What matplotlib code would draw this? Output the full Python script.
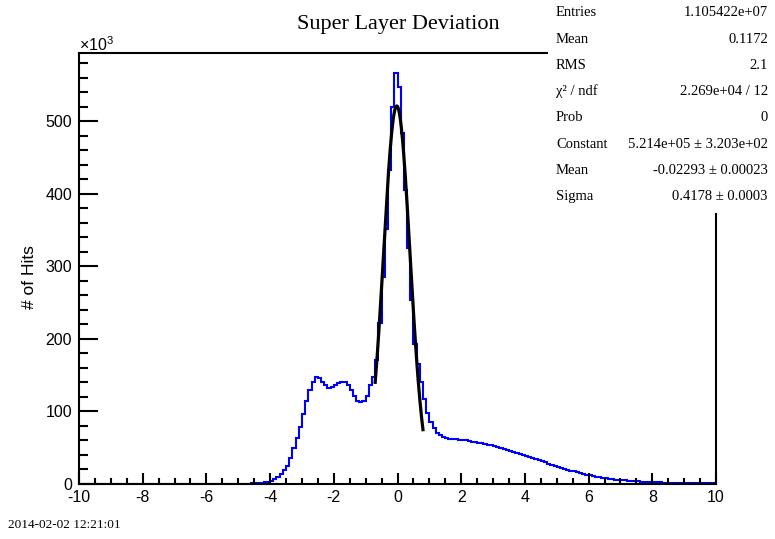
import numpy as np
import matplotlib
matplotlib.use("Agg")
import matplotlib.pyplot as plt
from matplotlib.patches import Rectangle
from matplotlib.ticker import MultipleLocator

plt.rcParams["font.family"] = ["Liberation Sans", "DejaVu Sans"]
plt.rcParams["axes.unicode_minus"] = False
plt.rcParams["mathtext.fontset"] = "custom"
plt.rcParams["mathtext.rm"] = "Liberation Sans"

W, H = 775, 539
SERIF = ["Liberation Serif", "DejaVu Serif"]

# ── data: hits per 0.1 bin, in units of 10^3 ───────────────────────────────
X_MIN, X_MAX = -10.0, 10.0
HITS = [
    # -10.0 .. -5.0
    0, 0, 0, 0, 0, 0, 0, 0, 0, 0,
    0, 0, 0, 0, 0, 0, 0, 0, 0, 0,
    0, 0, 0, 0, 0, 0, 0, 0, 0, 0,
    0, 0, 0, 0, 0, 0, 0, 0, 0, 0,
    0, 0, 0, 0, 0, 0.1, 0.1, 0.1, 0.2, 0.2,
    # -5.0 .. -4.0
    0.3, 0.4, 0.5, 0.6, 0.8, 1.0, 1.3, 1.7, 2.3, 3.0,
    # -4.0 .. -3.0
    4.5, 6.5, 9.5, 14, 19, 25, 36, 49, 63, 79,
    # -3.0 .. -2.0
    97, 114, 129, 141, 147, 146, 141, 136, 133, 134,
    # -2.0 .. -1.0
    136, 139, 141, 140, 136, 130, 122, 115, 113, 114,
    # -1.0 .. 0.0
    122, 136, 148, 171, 222, 285, 352, 433, 520, 567,
    # 0.0 .. 1.0
    548, 484, 406, 326, 254, 193, 165, 140, 117, 98,
    # 1.0 .. 2.0
    85, 77, 70, 67.6, 65.3, 63.5, 62.5, 62, 61.5, 61,
    # 2.0 .. 3.0
    60.5, 60, 59.3, 58.6, 57.8, 57, 56.2, 55.3, 54.4, 53.4,
    # 3.0 .. 4.0
    52.4, 51.3, 50, 48.7, 47.3, 45.9, 44.5, 43, 41.6, 40.1,
    # 4.0 .. 5.0
    38.6, 37.2, 35.7, 34.2, 32.7, 31.2, 29.7, 28.2, 26.7, 25.3,
    # 5.0 .. 6.0
    23.8, 22.4, 21.1, 19.8, 18.6, 17.4, 16.3, 15.1, 14.0, 13.0,
    # 6.0 .. 7.0
    12.1, 11.2, 10.3, 9.5, 8.7, 8.0, 7.4, 6.8, 6.2, 5.7,
    # 7.0 .. 8.0
    5.3, 4.9, 4.5, 4.2, 3.9, 3.6, 3.4, 3.1, 2.9, 2.7,
    # 8.0 .. 9.0
    2.5, 2.3, 2.2, 2.0, 1.9, 1.8, 1.7, 1.6, 1.5, 1.4,
    # 9.0 .. 10.0
    1.3, 1.2, 1.1, 1.0, 1.0, 0.9, 0.9, 0.8, 0.8, 0.7,
]

# gaussian fit shown in the stats box
FIT_CONST = 521.4      # x10^3
FIT_MEAN = -0.02293
FIT_SIGMA = 0.4178
FIT_RANGE = (-0.7, 0.8)

STATS_LABELS = ["Entries", "Mean", "RMS", "χ² / ndf", "Prob",
                "Constant", "Mean", "Sigma"]
STATS_VALUES = ["1.105422e+07", "0.1172", "2.1", "2.269e+04 / 12", "0",
                "5.214e+05 ± 3.203e+02", "-0.02293 ± 0.00023",
                "0.4178 ± 0.0003"]

TITLE = "Super Layer Deviation"
YLABEL = "# of Hits"
STAMP = "2014-02-02 12:21:01"


def fx(px):
    return px / W


def fy(py):
    return 1 - py / H


# ── figure ─────────────────────────────────────────────────────────────────
fig = plt.figure(figsize=(W / 100, H / 100), dpi=100)
ax = fig.add_axes([fx(79), fy(484), fx(716) - fx(79), fy(53.3) - fy(484)])

edges = np.linspace(X_MIN, X_MAX, len(HITS) + 1)
ax.stairs(HITS, edges, color="#0000ff", linewidth=1.5)

xs = np.linspace(FIT_RANGE[0], FIT_RANGE[1], 300)
ax.plot(xs, FIT_CONST * np.exp(-0.5 * ((xs - FIT_MEAN) / FIT_SIGMA) ** 2),
        color="black", linewidth=2.3)

ax.set_xlim(X_MIN, X_MAX)
ax.set_ylim(0, 594)
ax.xaxis.set_major_locator(MultipleLocator(2))
ax.xaxis.set_minor_locator(MultipleLocator(0.5))
ax.yaxis.set_major_locator(MultipleLocator(100))
ax.yaxis.set_minor_locator(MultipleLocator(20))

for s in ax.spines.values():
    s.set_linewidth(1.5)
ax.tick_params(axis="both", which="both", direction="in", width=1.5,
               top=False, right=False, labelsize=11.5)
ax.tick_params(axis="x", which="major", length=8, pad=4)
ax.tick_params(axis="x", which="minor", length=4.3)
ax.tick_params(axis="y", which="major", length=13.5, pad=5)
ax.tick_params(axis="y", which="minor", length=6.5)

fig.text(fx(79), fy(51), r"$\times10^{3}$", fontsize=11.5, ha="left",
         va="baseline")
fig.text(fx(30), fy(277), YLABEL, rotation=90, fontsize=12.5,
         ha="center", va="center")

# ── stats box (covers the frame corner, like ROOT) ─────────────────────────
fig.add_artist(Rectangle((fx(548), fy(213)), fx(775) - fx(548),
                         fy(0) - fy(213), transform=fig.transFigure,
                         facecolor="white", edgecolor="none", zorder=3))
for i, (lab, val) in enumerate(zip(STATS_LABELS, STATS_VALUES)):
    y = fy(13 + 26.2 * i)
    fig.text(fx(556), y, lab, family=SERIF, fontsize=10.5, ha="left",
             va="center", zorder=4)
    fig.text(fx(768), y, val, family=SERIF, fontsize=10.5, ha="right",
             va="center", zorder=4)

fig.text(fx(398), fy(25), TITLE, family=SERIF, fontsize=16,
         ha="center", va="center")
fig.text(fx(8), fy(525), STAMP, family=SERIF, fontsize=9.5,
         ha="left", va="center")

fig.savefig("out.png", dpi=100)
